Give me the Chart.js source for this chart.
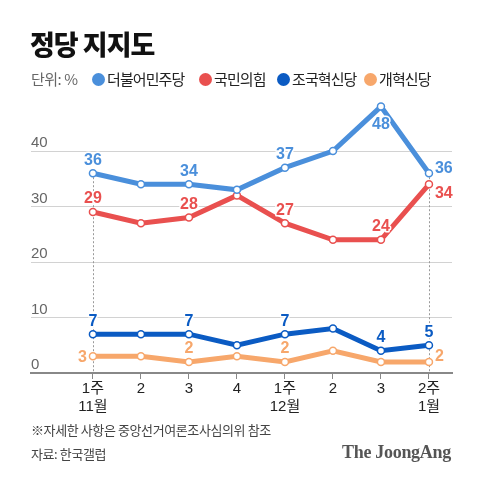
<!DOCTYPE html>
<html><head><meta charset="utf-8">
<script src="https://cdn.jsdelivr.net/npm/chart.js@4"></script>
<style>
html,body{margin:0;padding:0;background:#fff;}
#wrap{position:relative;width:480px;height:481px;overflow:hidden;font-family:"Noto Sans CJK KR","Noto Sans",sans-serif;}
canvas{position:absolute;left:0;top:0;}
.t{position:absolute;white-space:nowrap;}
#title{left:30px;top:24px;font-size:27px;font-weight:900;color:#111;letter-spacing:-1px;}
.lg{top:69px;font-size:15px;color:#222;letter-spacing:-0.9px;line-height:20px;}
.dot{display:inline-block;width:13px;height:13px;border-radius:50%;vertical-align:-1px;margin-right:2px;}
#unit{left:31px;top:69px;font-size:15px;color:#666;line-height:20px;letter-spacing:-0.5px;}
#note{left:31px;top:420px;font-size:13px;color:#444;letter-spacing:-0.4px;}
#src{left:31px;top:444px;font-size:13px;color:#444;letter-spacing:-0.4px;}
#brand{left:342px;top:442px;font-family:"Liberation Serif","DejaVu Serif",serif;font-weight:bold;font-size:18px;color:#555;letter-spacing:-0.3px;}
</style></head>
<body>
<div id="wrap">
<canvas id="c" width="480" height="481"></canvas>
<div class="t" id="title">정당 지지도</div>
<div class="t" id="unit">단위: %</div>
<div id="legend"></div>
<div class="t" id="note">※자세한 사항은 중앙선거여론조사심의위 참조</div>
<div class="t" id="src">자료: 한국갤럽</div>
<div class="t" id="brand">The JoongAng</div>
</div>
<script>
const categories = [["1주","11월"],"2","3","4",["1주","12월"],"2","3",["2주","1월"]];
const seriesNames = ["더불어민주당","국민의힘","조국혁신당","개혁신당"];
const minjoo = [36,34,34,33,37,40,48,36];
const ppp = [29,27,28,32,27,24,24,34];
const rebuilding = [7,7,7,5,7,8,4,5];
const reform = [3,3,2,3,2,4,2,2];
const yTicks = [0,10,20,30,40];

const colors = ["#4a8fdb","#e9504f","#0b5bc3","#f7a76b"];
const legendX = [92,199,277,364];
const labelSpecs = [
  {0:'above',2:'above',4:'above',6:'below',7:'right'},
  {0:'above',2:'above',4:'above',6:'above',7:'rightBelow'},
  {0:'above',2:'above',4:'above',6:'above',7:'above'},
  {0:'left',2:'above',4:'above',7:'right'}
];

const lg = document.getElementById('legend');
seriesNames.forEach((n,i)=>{
  const d=document.createElement('div');
  d.className='t lg';d.style.left=legendX[i]+'px';
  d.innerHTML='<span class="dot" style="background:'+colors[i]+'"></span>'+n;
  lg.appendChild(d);
});

const allData=[minjoo,ppp,rebuilding,reform];

const guidePlugin = {
  id:'guides',
  beforeDatasetsDraw(chart){
    const ctx=chart.ctx, y=chart.scales.y, meta=chart.getDatasetMeta(0);
    ctx.save();
    ctx.strokeStyle='#999';ctx.lineWidth=1;ctx.setLineDash([2,2]);
    [0,7].forEach(i=>{
      const p=meta.data[i];
      ctx.beginPath();ctx.moveTo(Math.round(p.x)+0.5,p.y);ctx.lineTo(Math.round(p.x)+0.5,y.getPixelForValue(0));ctx.stroke();
    });
    ctx.restore();
  }
};
const labelPlugin = {
  id:'vlabels',
  afterDatasetsDraw(chart){
    const ctx=chart.ctx;
    ctx.save();
    ctx.font='bold 16px "Liberation Sans","Noto Sans",sans-serif';
    ctx.lineJoin='round';
    labelSpecs.forEach((spec,di)=>{
      const meta=chart.getDatasetMeta(di);
      Object.keys(spec).forEach(k=>{
        const i=+k, p=meta.data[i], pos=spec[k];
        const txt=String(allData[di][i]);
        let x=p.x,y=p.y,align='center';
        if(pos==='above'){y=p.y-13;}
        else if(pos==='below'){y=p.y+18;}
        else if(pos==='right'){x=p.x+6;y=p.y-5;align='left';}
        else if(pos==='rightBelow'){x=p.x+6;y=p.y+9;align='left';}
        else if(pos==='left'){x=p.x-6;y=p.y+1;align='right';}
        ctx.textAlign=align;ctx.textBaseline='middle';
        ctx.strokeStyle='#fff';ctx.lineWidth=3;ctx.strokeText(txt,x,y);
        ctx.fillStyle=colors[di];ctx.fillText(txt,x,y);
      });
    });
    ctx.restore();
  }
};

new Chart(document.getElementById('c'),{
  type:'line',
  data:{
    datasets: allData.map((d,i)=>({
      label:seriesNames[i],
      data:d.map((v,j)=>({x:j,y:v})),
      borderColor:colors[i],
      backgroundColor:'#fff',
      pointBackgroundColor:'#fff',
      pointBorderColor:colors[i],
      borderWidth:5,
      pointRadius:3.5,
      pointBorderWidth:1.5,
      tension:0,
      order:i
    }))
  },
  options:{
    responsive:false,animation:false,
    layout:{padding:{left:31,right:28,top:95.5,bottom:68}},
    plugins:{legend:{display:false},tooltip:{enabled:false}},
    scales:{
      x:{
        type:'linear',min:-1.29,max:7.48,
        afterBuildTicks(s){s.ticks=categories.map((c,i)=>({value:i}));},
        afterFit(s){s.height=40;},
        ticks:{callback:(v)=>categories[v],color:'#222',font:{size:15,family:'"Liberation Sans","Noto Sans CJK KR",sans-serif',lineHeight:1.2},padding:1,maxRotation:0,autoSkip:false},
        grid:{drawOnChartArea:false,drawTicks:true,tickLength:6,color:'#888',lineWidth:1},
        border:{display:true,color:'#888',width:2}
      },
      y:{
        min:0,max:50,
        afterBuildTicks(s){s.ticks=yTicks.map(v=>({value:v}));},
        afterFit(s){s.width=0;},
        ticks:{mirror:true,padding:0,labelOffset:-8,color:'#666',font:{size:15,family:'"Liberation Sans","Noto Sans",sans-serif'}},
        grid:{drawTicks:false,color:(c)=>c.tick&&c.tick.value===0?'rgba(0,0,0,0)':'#d2d2d2',lineWidth:1},
        border:{display:false}
      }
    }
  },
  plugins:[guidePlugin,labelPlugin]
});
</script>
</body></html>
